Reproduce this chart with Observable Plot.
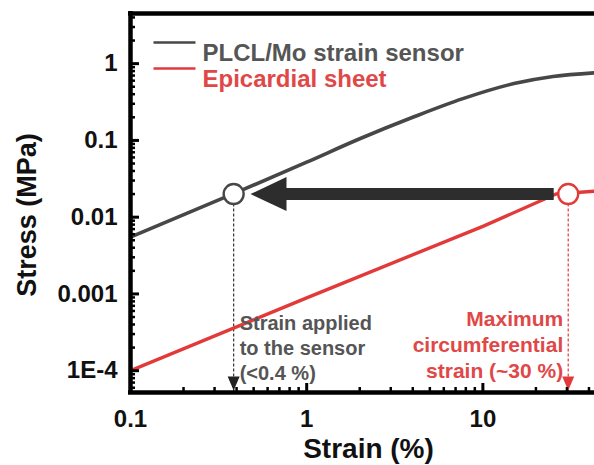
<!DOCTYPE html>
<html>
<head>
<meta charset="utf-8">
<script src="https://cdn.jsdelivr.net/npm/d3@7"></script>
<script src="https://cdn.jsdelivr.net/npm/@observablehq/plot@0.6"></script>
<style>
  html, body { margin: 0; padding: 0; background: #fff; }
  #chart { width: 594px; height: 465px; }
</style>
</head>
<body>
<div id="chart"></div>
<script>
// ---- data ----
const sensorStrain = [0.1, 0.4, 1, 2, 4, 7.7, 15, 25, 43];
const sensorStress = [0.0055, 0.021, 0.052, 0.105, 0.2, 0.35, 0.55, 0.68, 0.76];
const sheetStrain = [0.1, 1, 10, 26, 45];
const sheetStress = [0.0001, 0.00089, 0.0076, 0.02, 0.022];
const markerStrain = [0.385, 30.5];
const markerStress = [0.02, 0.02];
const markerSeries = ["sensor", "sheet"];
const arrowTail = 25.4, arrowTip = 0.48, arrowStress = 0.02;
const xTickValues = [0.1, 1, 10];
const xTickLabels = ["0.1", "1", "10"];
const xMinorTicks = [0.2,0.3,0.4,0.5,0.6,0.7,0.8,0.9,2,3,4,5,6,7,8,9,20,30,40];
const yTickValues = [0.0001, 0.001, 0.01, 0.1, 1];
const yTickLabels = ["1E-4", "0.001", "0.01", "0.1", "1"];
const yMinorTicks = [0.00006,0.00007,0.00008,0.00009,
  0.0002,0.0003,0.0004,0.0005,0.0006,0.0007,0.0008,0.0009,
  0.002,0.003,0.004,0.005,0.006,0.007,0.008,0.009,
  0.02,0.03,0.04,0.05,0.06,0.07,0.08,0.09,
  0.2,0.3,0.4,0.5,0.6,0.7,0.8,0.9,2,3,4];
const legendLabels = ["PLCL/Mo strain sensor", "Epicardial sheet"];
const noteSensor = "Strain applied\nto the sensor\n(<0.4 %)";
const noteSheet = "Maximum\ncircumferential\nstrain (~30 %)";
const xDomain = [0.1, 43];
const yDomain = [0.000052, 4.5];

// ---- styles ----
const GRAY = "#474747", RED = "#e23a3a", TXTGRAY = "#555555", TXTRED = "#e04848", ARROW = "#2d2d2d";
const W = 594, H = 465, mL = 130, mT = 13, mR = 0, mB = 73;
const innerW = W - mL - mR, innerH = H - mT - mB;

const sensor = sensorStrain.map((x, i) => ({x, y: sensorStress[i]}));
const sheet = sheetStrain.map((x, i) => ({x, y: sheetStress[i]}));
const markers = markerStrain.map((x, i) => ({x, y: markerStress[i], s: markerSeries[i]}));

const headLeft = {draw(ctx) { ctx.moveTo(0, 0); ctx.lineTo(36, -17); ctx.lineTo(36, 17); ctx.closePath(); }};
const headDown = {draw(ctx) { ctx.moveTo(0, 0); ctx.lineTo(-6, -14); ctx.lineTo(6, -14); ctx.closePath(); }};
const legLine = {draw(ctx) { ctx.moveTo(0, 0); ctx.lineTo(42, 0); }};

const font = {fontWeight: "bold"};

const chart = Plot.plot({
  width: W, height: H,
  marginLeft: mL, marginTop: mT, marginRight: mR, marginBottom: mB,
  style: {fontFamily: "'Liberation Sans', Arial, sans-serif", background: "#fff", overflow: "visible"},
  x: {type: "log", domain: xDomain, axis: null},
  y: {type: "log", domain: yDomain, axis: null},
  marks: [
    // dashed guides
    Plot.ruleX(markers.filter(d => d.s === "sensor"), {x: "x", y1: "y", y2: yDomain[0], stroke: "#333", strokeWidth: 1.2, strokeDasharray: "3,2"}),
    Plot.ruleX(markers.filter(d => d.s === "sheet"), {x: "x", y1: "y", y2: yDomain[0], stroke: RED, strokeWidth: 1.2, strokeDasharray: "3,2"}),
    Plot.dot(markers.filter(d => d.s === "sensor"), {x: "x", y: () => yDomain[0], symbol: headDown, fill: "#222", stroke: "none", dy: -2}),
    Plot.dot(markers.filter(d => d.s === "sheet"), {x: "x", y: () => yDomain[0], symbol: headDown, fill: RED, stroke: "none", dy: -2}),
    // curves
    Plot.line(sensor, {x: "x", y: "y", stroke: GRAY, strokeWidth: 3.6, curve: "monotone-x", clip: true}),
    Plot.line(sheet, {x: "x", y: "y", stroke: RED, strokeWidth: 3.4, clip: true}),
    // big arrow
    Plot.ruleY([arrowStress], {y: d => d, x1: () => arrowTail, x2: () => arrowTip * 1.5, stroke: ARROW, strokeWidth: 12}),
    Plot.dot([arrowStress], {y: d => d, x: () => arrowTip, symbol: headLeft, fill: ARROW, stroke: "none"}),
    // markers
    Plot.dot(markers, {x: "x", y: "y", r: 10, fill: "#fff", stroke: d => d.s === "sensor" ? GRAY : RED, strokeWidth: 2.4}),
    // annotations
    Plot.text([noteSensor], {x: () => markerStrain[0], frameAnchor: "bottom", text: d => d, textAnchor: "start", lineAnchor: "bottom", dx: 6, dy: -13, fontSize: 20, lineHeight: 1.25, fill: TXTGRAY, ...font}),
    Plot.text([noteSheet], {x: () => markerStrain[1], frameAnchor: "bottom", text: d => d, textAnchor: "end", lineAnchor: "bottom", dx: -5, dy: -15, fontSize: 21, lineHeight: 1.22, fill: TXTRED, ...font}),
    // frame (left, top, bottom)
    Plot.ruleX([xDomain[0]], {x: d => d, stroke: "#000", strokeWidth: 4.5, insetTop: -2, insetBottom: -2}),
    Plot.ruleY([yDomain[0], yDomain[1]], {y: d => d, stroke: "#000", strokeWidth: 4.5, insetLeft: -2}),
    // inward ticks
    Plot.tickX(xTickValues, {x: d => d, insetTop: innerH - 9, stroke: "#000", strokeWidth: 3}),
    Plot.tickX(xMinorTicks, {x: d => d, insetTop: innerH - 5, stroke: "#000", strokeWidth: 2.5}),
    Plot.tickY(yTickValues, {y: d => d, insetRight: innerW - 9, stroke: "#000", strokeWidth: 3}),
    Plot.tickY(yMinorTicks, {y: d => d, insetRight: innerW - 5, stroke: "#000", strokeWidth: 2.5}),
    // tick labels
    Plot.text(xTickValues, {x: d => d, text: (d, i) => xTickLabels[i], frameAnchor: "bottom", lineAnchor: "top", dy: 17, fontSize: 24, fill: "#111", ...font}),
    Plot.text(yTickValues, {y: d => d, text: (d, i) => yTickLabels[i], frameAnchor: "left", textAnchor: "end", dx: -13, fontSize: 24, fill: "#111", ...font}),
    // axis titles
    Plot.text(["Strain (%)"], {frameAnchor: "bottom", text: d => d, textAnchor: "middle", lineAnchor: "top", dy: 46, dx: 6, fontSize: 28, fill: "#111", ...font}),
    Plot.text(["Stress (MPa)"], {frameAnchor: "left", text: d => d, textAnchor: "middle", rotate: -90, dx: -103, dy: 12, fontSize: 27, fill: "#111", ...font}),
    // legend
    Plot.dot([legendLabels[0]], {frameAnchor: "top-left", dx: 23, dy: 29, symbol: legLine, fill: "none", stroke: GRAY, strokeWidth: 2.5}),
    Plot.dot([legendLabels[1]], {frameAnchor: "top-left", dx: 23, dy: 55, symbol: legLine, fill: "none", stroke: RED, strokeWidth: 2.5}),
    Plot.text([legendLabels[0]], {frameAnchor: "top-left", text: d => d, textAnchor: "start", dx: 72, dy: 30, fontSize: 24, fill: TXTGRAY, ...font}),
    Plot.text([legendLabels[1]], {frameAnchor: "top-left", text: d => d, textAnchor: "start", dx: 72, dy: 56, fontSize: 24, fill: TXTRED, ...font})
  ]
});
document.getElementById("chart").appendChild(chart);
</script>
</body>
</html>
